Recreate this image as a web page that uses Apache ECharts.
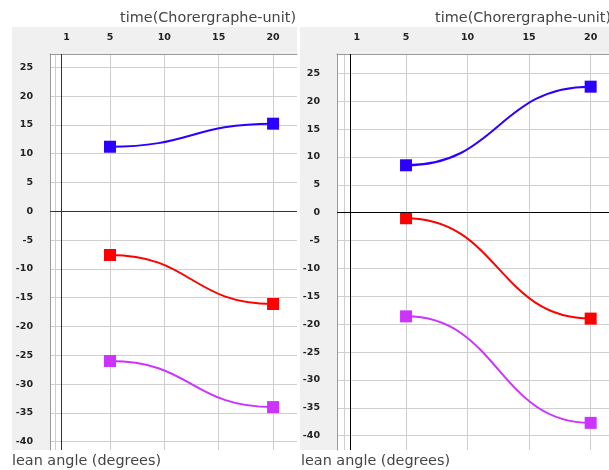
<!DOCTYPE html>
<html>
<head>
<meta charset="utf-8">
<script src="https://cdn.jsdelivr.net/npm/echarts@6/dist/echarts.min.js"></script>
<style>html,body{margin:0;padding:0;background:#fff;}#c{width:609px;height:470px;}</style>
</head>
<body>
<div id="c"></div>
<script>
// ---- data ----
var xValues = [5, 20];
var xTickLabels = [1, 5, 10, 15, 20];
var xGridTicks = [0, 5, 10, 15, 20];
var yTicks = [-40, -35, -30, -25, -20, -15, -10, -5, 0, 5, 10, 15, 20, 25];

var leftBlue = [11.2, 15.2];
var leftRed = [-7.6, -16.1];
var leftPurple = [-26.0, -34.0];

var rightBlue = [8.5, 22.6];
var rightRed = [-1.0, -19.0];
var rightPurple = [-18.6, -37.7];

var BLUE = '#2b00ff', RED = '#ff0000', PURPLE = '#cc33ff';

var chart = echarts.init(document.getElementById('c'), null, {renderer: 'canvas'});

function pts(ys) { return xValues.map(function (x, i) { return [x, ys[i]]; }); }
function seg(ys) { return [[xValues[0], ys[0], xValues[1], ys[1]]]; }

function curve(idx, ys, color) {
  return {
    type: 'custom', xAxisIndex: idx, yAxisIndex: idx, z: 2,
    encode: {x: [0, 2], y: [1, 3]},
    data: seg(ys), silent: true,
    renderItem: function (params, api) {
      var p0 = api.coord([api.value(0), api.value(1)]);
      var p1 = api.coord([api.value(2), api.value(3)]);
      var mx = (p0[0] + p1[0]) / 2;
      return {
        type: 'bezierCurve',
        shape: {x1: p0[0], y1: p0[1], x2: p1[0], y2: p1[1], cpx1: mx, cpy1: p0[1], cpx2: mx, cpy2: p1[1]},
        style: {stroke: color, lineWidth: 2, fill: null}
      };
    }
  };
}
function marks(idx, ys, color, extra) {
  var s = {
    type: 'scatter', xAxisIndex: idx, yAxisIndex: idx, z: 3,
    symbol: 'rect', symbolSize: 12, itemStyle: {color: color, opacity: 1},
    data: pts(ys), silent: true
  };
  if (extra) s.markLine = extra;
  return s;
}
function zeroLines(col) {
  return {
    silent: true, symbol: 'none', label: {show: false},
    lineStyle: {color: col, width: 1, type: 'solid', opacity: 1},
    animation: false,
    data: [{yAxis: 0}, {xAxis: 0.5}]
  };
}

var labelStyle = {color: '#222', fontSize: 9.5, fontWeight: 'bold', fontFamily: 'DejaVu Sans'};

function xAxis(idx, min, max) {
  return {
    type: 'value', gridIndex: idx, position: 'top', min: min, max: max,
    axisLine: {show: true, onZero: false, lineStyle: {color: '#999'}},
    axisTick: {show: false, customValues: xGridTicks},
    axisLabel: Object.assign({customValues: xTickLabels, margin: 11}, labelStyle),
    splitLine: {show: true, lineStyle: {color: '#cfcfcf', width: 1}}
  };
}
function yAxis(idx, min, max) {
  return {
    type: 'value', gridIndex: idx, min: min, max: max,
    axisLine: {show: true, onZero: false, lineStyle: {color: '#999'}},
    axisTick: {show: false, customValues: yTicks},
    axisLabel: Object.assign({customValues: yTicks, margin: 17}, labelStyle),
    splitLine: {show: true, lineStyle: {color: '#cfcfcf', width: 1}}
  };
}

var titleFont = {fontSize: 14.4, fontFamily: 'DejaVu Sans', fill: '#444'};

chart.setOption({
  animation: false,
  backgroundColor: '#fff',
  graphic: [
    {type: 'rect', z: -10, shape: {x: 12, y: 27, width: 285, height: 423}, style: {fill: '#f0f0f0'}},
    {type: 'rect', z: -10, shape: {x: 300, y: 27, width: 309, height: 423}, style: {fill: '#f0f0f0'}},
    {type: 'text', x: 296, y: 18, style: Object.assign({text: 'time(Chorergraphe-unit)', align: 'right', verticalAlign: 'middle'}, titleFont)},
    {type: 'text', x: 611, y: 18, style: Object.assign({text: 'time(Chorergraphe-unit)', align: 'right', verticalAlign: 'middle'}, titleFont)},
    {type: 'text', x: 12, y: 461, style: Object.assign({text: 'lean angle (degrees)', align: 'left', verticalAlign: 'middle'}, titleFont)},
    {type: 'text', x: 301, y: 461, style: Object.assign({text: 'lean angle (degrees)', align: 'left', verticalAlign: 'middle'}, titleFont)}
  ],
  grid: [
    {left: 50, top: 54, width: 247, height: 396, show: true, backgroundColor: '#fff', borderWidth: 0},
    {left: 337, top: 54, width: 272, height: 396, show: true, backgroundColor: '#fff', borderWidth: 0}
  ],
  xAxis: [xAxis(0, -0.52, 22.2), xAxis(1, -0.61, 21.49)],
  yAxis: [yAxis(0, -41.45, 27.3), yAxis(1, -42.57, 28.46)],
  series: [
    curve(0, leftBlue, BLUE), curve(0, leftRed, RED), curve(0, leftPurple, PURPLE),
    marks(0, leftBlue, BLUE, zeroLines('#333')), marks(0, leftRed, RED), marks(0, leftPurple, PURPLE),
    curve(1, rightBlue, BLUE), curve(1, rightRed, RED), curve(1, rightPurple, PURPLE),
    marks(1, rightBlue, BLUE, zeroLines('#000')), marks(1, rightRed, RED), marks(1, rightPurple, PURPLE)
  ]
});
</script>
</body>
</html>
